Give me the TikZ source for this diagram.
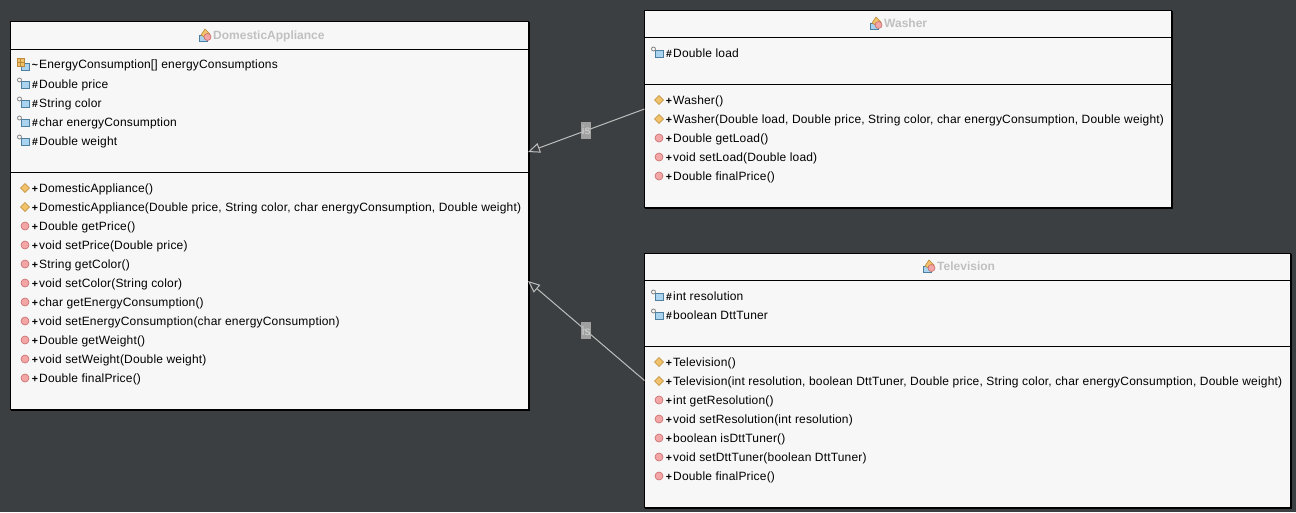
\documentclass[tikz,border=0pt]{standalone}
\usepackage{fontspec}
\setmainfont[LetterSpace=1.5]{Liberation Sans}
\usetikzlibrary{arrows.meta}
\definecolor{canvas}{HTML}{3C3F41}
\definecolor{boxfill}{HTML}{F7F7F7}
\definecolor{titlegray}{HTML}{C0C0C0}
\definecolor{linkgray}{HTML}{BDBDBD}
\definecolor{iconblue}{HTML}{A9D3EE}
\definecolor{iconedge}{HTML}{4F7F9F}
\definecolor{ctorfill}{HTML}{F2C26B}
\definecolor{ctoredge}{HTML}{B98A3A}
\definecolor{methfill}{HTML}{F4A6A6}
\definecolor{methedge}{HTML}{C66A6A}
\tikzset{
    classbox/.style={draw=black, fill=boxfill, line width=1pt, inner sep=0pt, outer sep=0pt, anchor=north west},
    member/.style={anchor=base west, inner sep=0pt, font=\fontsize{12}{14}\selectfont},
    vis/.style={anchor=base, inner sep=0pt, font=\fontsize{10.5}{14}\selectfont\bfseries},
    classtitle/.style={anchor=base west, inner sep=0pt, text=titlegray, font=\fontsize{12}{14}\selectfont\bfseries\addfontfeature{LetterSpace=0}},
    linklabel/.style={fill=white!40!gray, fill opacity=.85, text opacity=1, text=white!65!gray, minimum width=10pt, minimum height=17pt, inner sep=0pt, font=\fontsize{12}{12}\selectfont},
    link/.style={draw=linkgray, line width=1pt, ->},
    boxshade/.style={line width=2pt},
    fieldicon/.pic={
        \draw[iconedge, fill=iconblue, line width=.8pt] (-2,-3) rectangle (6,4);
        \draw[gray, fill=white, line width=.8pt] (-3.5,-4) circle (2);
    },
    arrayicon/.pic={
        \draw[iconedge, fill=iconblue, line width=.8pt] (-2,-1) rectangle (6,6);
        \draw[ctoredge, fill=ctorfill, line width=.8pt] (-6,-6) rectangle (1,2);
        \draw[ctoredge, line width=.5pt] (-2.5,-6) -- (-2.5,2) (-6,-2) -- (1,-2);
    },
    ctoricon/.pic={
        \draw[ctoredge, fill=ctorfill, line width=.6pt] (-4.5,0) -- (0,-4.5) -- (4.5,0) -- (0,4.5) -- cycle;
    },
    methicon/.pic={
        \draw[methedge, fill=methfill, line width=.6pt] (0,0) circle (4);
    },
    classicon/.pic={
        \draw[iconedge, fill=iconblue, line width=.6pt] (-6,0) rectangle (2,6);
        \draw[ctoredge, fill=ctorfill, line width=.6pt] (-4,0) -- (0,-6) -- (5,-1) -- (1,3) -- cycle;
        \draw[methedge, fill=methfill, line width=.6pt] (2.5,2) circle (3.5);
    }
}
\begin{document}
\begin{tikzpicture}[
                x=1pt,
                y=-1pt,
                >={Triangle[open, length=12pt, width=10pt]}
                ]
            \useasboundingbox[fill=canvas] (0,0) rectangle (1296,512);
            % Boxes
            \node[classbox, minimum width=518pt, minimum height=388pt] (da) at (10.5,21.5) {};
            \node[classbox, minimum width=527pt, minimum height=197pt] (washer) at (644.5,10.5) {};
            \node[classbox, minimum width=646pt, minimum height=254pt] (tv) at (644.5,253.5) {};
            \draw[boxshade] (da.north east) -- (da.south east) -- (da.south west);
            \draw[boxshade] (washer.north east) -- (washer.south east) -- (washer.south west);
            \draw[boxshade] (tv.north east) -- (tv.south east) -- (tv.south west);
            \draw[line width=1pt] (da.north west |- 0,49.5) -- (da.north east |- 0,49.5);
            \draw[line width=1pt] (da.north west |- 0,172.5) -- (da.north east |- 0,172.5);
            \draw[line width=1pt] (washer.north west |- 0,37.5) -- (washer.north east |- 0,37.5);
            \draw[line width=1pt] (washer.north west |- 0,84.5) -- (washer.north east |- 0,84.5);
            \draw[line width=1pt] (tv.north west |- 0,280.5) -- (tv.north east |- 0,280.5);
            \draw[line width=1pt] (tv.north west |- 0,346.5) -- (tv.north east |- 0,346.5);
            % Titles
            \pic at (205,35) {classicon};
            \node[classtitle] (datitle) at (213,39.5) {DomesticAppliance};
            \pic at (876,23) {classicon};
            \node[classtitle] (washertitle) at (884,27.5) {Washer};
            \pic at (929,266) {classicon};
            \node[classtitle] (tvtitle) at (937,270.5) {Television};
            % Members
            \pic at (23,64) {arrayicon};
            \node[vis] (davis) at (35,68) {\textasciitilde};
            \node[member] (dafield) at (39,68) {EnergyConsumption[] energyConsumptions};
            \foreach \y/\txt [count=\i] in {84/Double price, 103/String color, 122/char energyConsumption, 141/Double weight}{
                \pic at (23,\y) {fieldicon};
                \node[vis] (davis\i) at (35,\y+4) {\#};
                \node[member] (dafield\i) at (39,\y+4) {\txt};
            }
            \foreach \y/\txt [count=\i] in {188/DomesticAppliance(), 207/{DomesticAppliance(Double price, String color, char energyConsumption, Double weight)}}{
                \pic at (25,\y) {ctoricon};
                \node[vis] (daplus\i) at (35,\y+4) {+};
                \node[member] (dactor\i) at (39,\y+4) {\txt};
            }
            \foreach \y/\txt [count=\i] in {226/Double getPrice(), 245/void setPrice(Double price), 264/String getColor(), 283/void setColor(String color), 302/char getEnergyConsumption(), 321/void setEnergyConsumption(char energyConsumption), 340/Double getWeight(), 359/void setWeight(Double weight), 378/Double finalPrice()}{
                \pic at (25,\y) {methicon};
                \node[vis] (daminus\i) at (35,\y+4) {+};
                \node[member] (dameth\i) at (39,\y+4) {\txt};
            }
            \pic at (657,53) {fieldicon};
            \node[vis] (wvis) at (669,57) {\#};
            \node[member] (wfield) at (673,57) {Double load};
            \foreach \y/\txt [count=\i] in {100/Washer(), 119/{Washer(Double load, Double price, String color, char energyConsumption, Double weight)}}{
                \pic at (659,\y) {ctoricon};
                \node[vis] (wplus\i) at (669,\y+4) {+};
                \node[member] (wctor\i) at (673,\y+4) {\txt};
            }
            \foreach \y/\txt [count=\i] in {138/Double getLoad(), 157/void setLoad(Double load), 176/Double finalPrice()}{
                \pic at (659,\y) {methicon};
                \node[vis] (wminus\i) at (669,\y+4) {+};
                \node[member] (wmeth\i) at (673,\y+4) {\txt};
            }
            \foreach \y/\txt [count=\i] in {296/int resolution, 315/boolean DttTuner}{
                \pic at (657,\y) {fieldicon};
                \node[vis] (tvis\i) at (669,\y+4) {\#};
                \node[member] (tfield\i) at (673,\y+4) {\txt};
            }
            \foreach \y/\txt [count=\i] in {362/Television(), 381/{Television(int resolution, boolean DttTuner, Double price, String color, char energyConsumption, Double weight)}}{
                \pic at (659,\y) {ctoricon};
                \node[vis] (tplus\i) at (669,\y+4) {+};
                \node[member] (tctor\i) at (673,\y+4) {\txt};
            }
            \foreach \y/\txt [count=\i] in {400/int getResolution(), 419/void setResolution(int resolution), 438/boolean isDttTuner(), 457/void setDttTuner(boolean DttTuner), 476/Double finalPrice()}{
                \pic at (659,\y) {methicon};
                \node[vis] (tminus\i) at (669,\y+4) {+};
                \node[member] (tmeth\i) at (673,\y+4) {\txt};
            }
            % Edges
            \coordinate (washerend) at (528,152);
            \coordinate (tvend) at (528,281);
            \path
            (washer.west) edge[link] node[linklabel] {is} (washerend)
            (tv.west) edge[link] node[linklabel] {is} (tvend);
            \end{tikzpicture}
\end{document}
